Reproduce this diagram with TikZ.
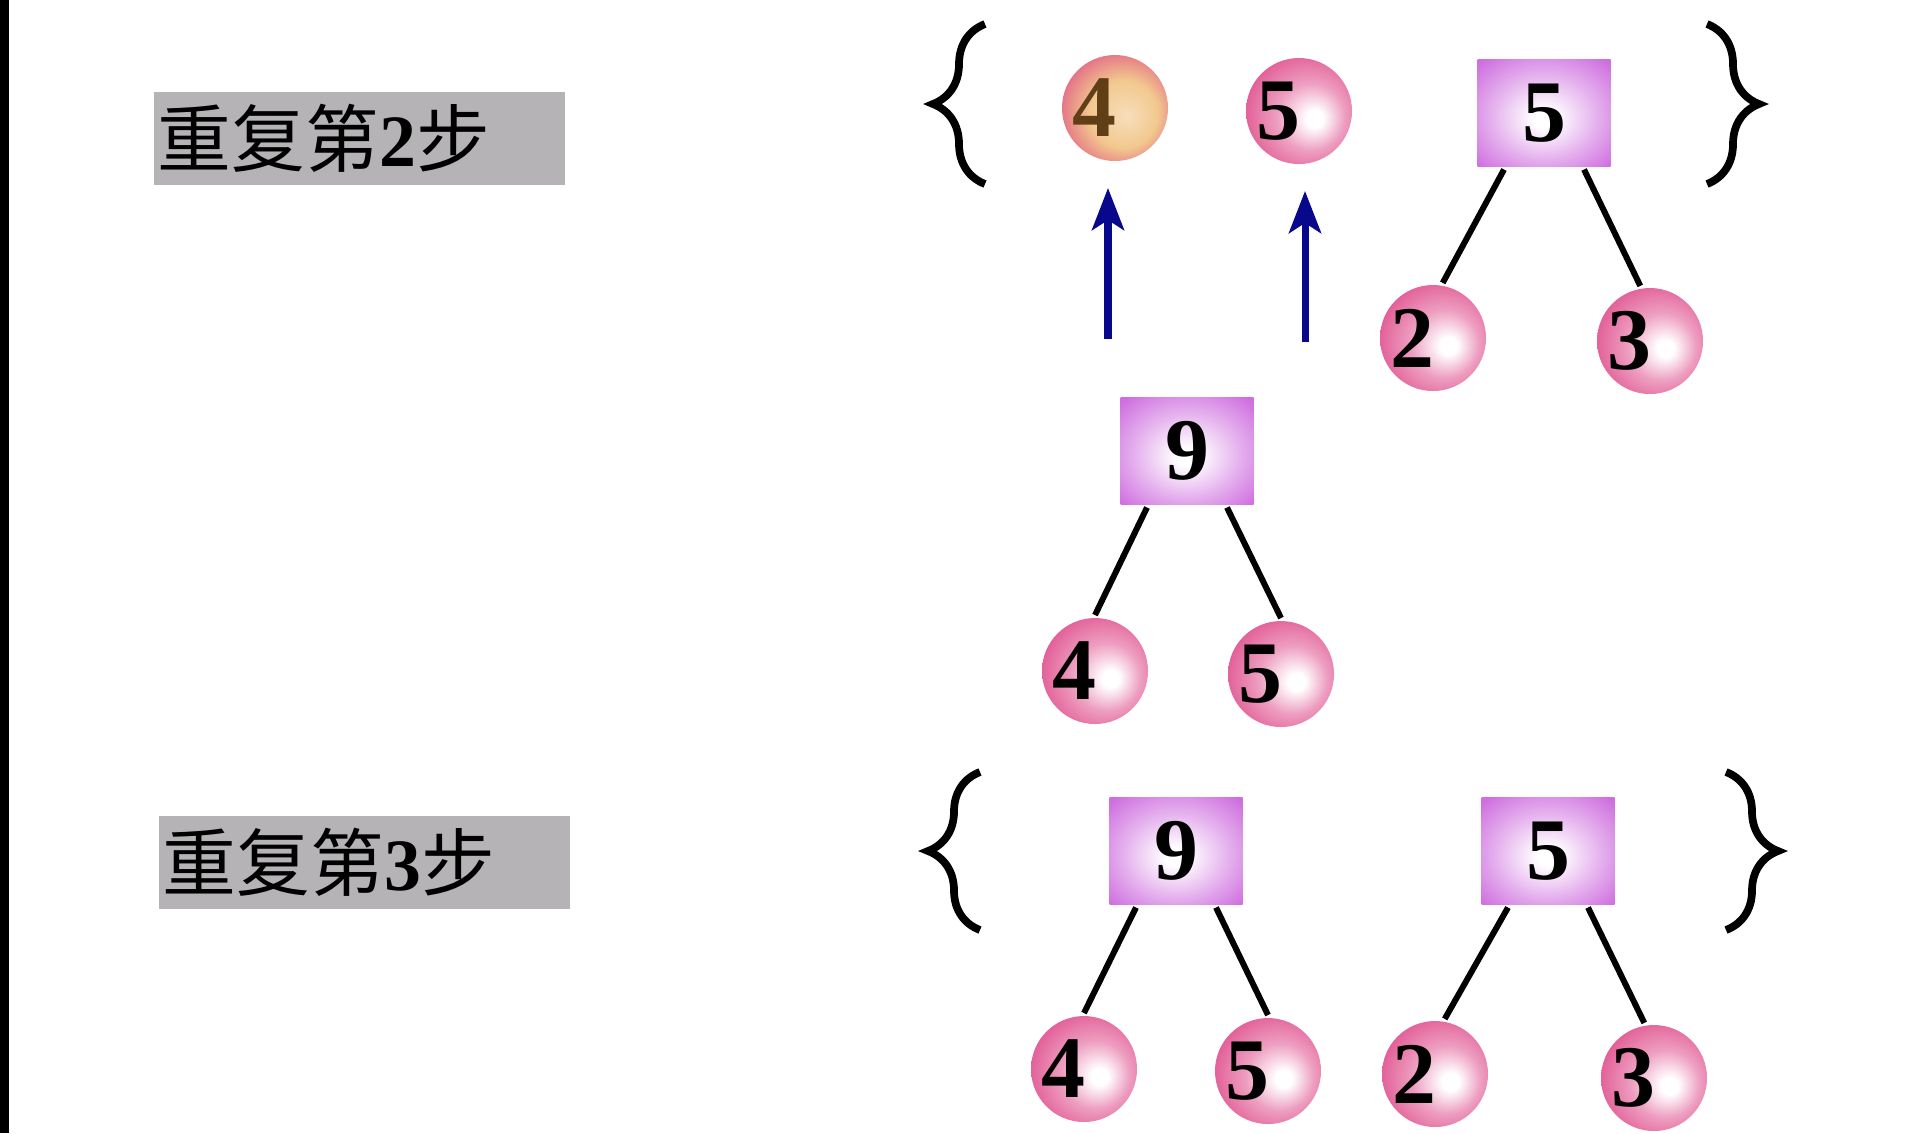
\documentclass[tikz,border=0pt]{standalone}
\usepackage{fontspec}
\setmainfont{Liberation Serif}
\newfontfamily\cjk{Noto Sans CJK SC}
\usepackage{tikz}
\usetikzlibrary{shapes,arrows.meta,decorations.pathreplacing}

\definecolor{ballpink}{RGB}{220,62,130}
\definecolor{boxpurple}{RGB}{202,96,220}
\definecolor{hotorange}{RGB}{242,200,142}
\definecolor{hotbrown}{RGB}{96,62,22}
\definecolor{tagrey}{RGB}{181,179,182}
\definecolor{arrowblue}{RGB}{8,8,140}

\pgfdeclareradialshading{pinkball}{\pgfpoint{8bp}{-4bp}}{color(0bp)=(white); color(4bp)=(white); color(16bp)=(ballpink!50!white); color(30bp)=(ballpink!85!white); color(42bp)=(ballpink); color(50bp)=(ballpink!92!black)}
\pgfdeclareradialshading{hotball}{\pgfpoint{6bp}{-4bp}}{color(0bp)=(hotorange!60!white); color(16bp)=(hotorange); color(28bp)=(hotorange!40!ballpink); color(38bp)=(ballpink); color(50bp)=(ballpink!92!black)}
\pgfdeclareradialshading{violetbox}{\pgfpoint{0bp}{-3bp}}{color(0bp)=(white); color(4bp)=(white); color(20bp)=(boxpurple!50!white); color(34bp)=(boxpurple!90!white); color(44bp)=(boxpurple); color(50bp)=(boxpurple)}

\begin{document}
\begin{tikzpicture}[line width=1.7pt]
\tikzstyle{bal}=[circle,inner sep=0pt,minimum size=1.06cm,shading=pinkball,font=\fontsize{25}{25}\selectfont\bfseries,execute at end node=\hspace{0.42cm}];
\tikzstyle{sq}=[rectangle,inner sep=0pt,minimum width=1.33cm,minimum height=1.07cm,shading=violetbox,font=\fontsize{25}{25}\selectfont\bfseries];
\tikzstyle{ttl}=[fill=tagrey,anchor=west,inner sep=0.04cm,text width=4.03cm,minimum height=0.93cm,align=left,font=\fontsize{21}{21}\selectfont];
\tikzstyle{dir}=[draw=arrowblue,line width=2pt,shorten >=0.24cm,-{Stealth[length=0.42cm,width=0.32cm,inset=0.1cm]}];
\tikzstyle{brc}=[decorate,decoration={brace,amplitude=0.52cm},line width=2.2pt];

\useasboundingbox (0,0) rectangle (19.31,-11.33);
\fill[white] (0,0) rectangle (19.31,-11.33);
\fill[black] (0,0) rectangle (0.09,-11.33);

% step 2
\node [ttl] (s2) at (1.51,-1.385) {{\cjk 重复第}\textbf{2}{\cjk 步}};
\draw [brc] (9.85,-1.84) -- (9.85,-0.24);
\draw [brc] (17.07,-0.24) -- (17.07,-1.84);
\node [bal,shading=hotball,text=hotbrown] (a4) at (11.15,-1.08) {4};
\node [bal] (a5) at (12.99,-1.11) {5};
\node [sq] (r5) at (15.44,-1.13) {5};
\node [bal] (r2) at (14.33,-3.38) {2};
\node [bal] (r3) at (16.50,-3.41) {3};
\draw ([xshift=-0.4cm]r5.south) -- (r2.80);
\draw ([xshift=0.4cm]r5.south) -- (r3.100);

\coordinate (t4) at (11.08,-3.39);
\coordinate (t5) at (13.05,-3.42);
\draw [dir] (t4) -- (t4 |- a4.south);
\draw [dir] (t5) -- (t5 |- a5.south);

\node [sq] (m9) at (11.87,-4.51) {9};
\node [bal] (m4) at (10.95,-6.71) {4};
\node [bal] (m5) at (12.81,-6.74) {5};
\draw ([xshift=-0.4cm]m9.south) -- (m4.north);
\draw ([xshift=0.4cm]m9.south) -- (m5.north);

% step 3
\node [ttl] (s3) at (1.56,-8.625) {{\cjk 重复第}\textbf{3}{\cjk 步}};
\draw [brc] (9.80,-9.30) -- (9.80,-7.72);
\draw [brc] (17.26,-7.72) -- (17.26,-9.30);
\node [sq] (b9) at (11.76,-8.51) {9};
\node [sq] (b5) at (15.48,-8.51) {5};
\node [bal] (b4) at (10.84,-10.69) {4};
\node [bal] (b5l) at (12.68,-10.71) {5};
\node [bal] (b2) at (14.35,-10.74) {2};
\node [bal] (b3) at (16.54,-10.78) {3};
\draw ([xshift=-0.4cm]b9.south) -- (b4.north);
\draw ([xshift=0.4cm]b9.south) -- (b5l.north);
\draw ([xshift=-0.4cm]b5.south) -- (b2.80);
\draw ([xshift=0.4cm]b5.south) -- (b3.100);
\end{tikzpicture}
\end{document}
